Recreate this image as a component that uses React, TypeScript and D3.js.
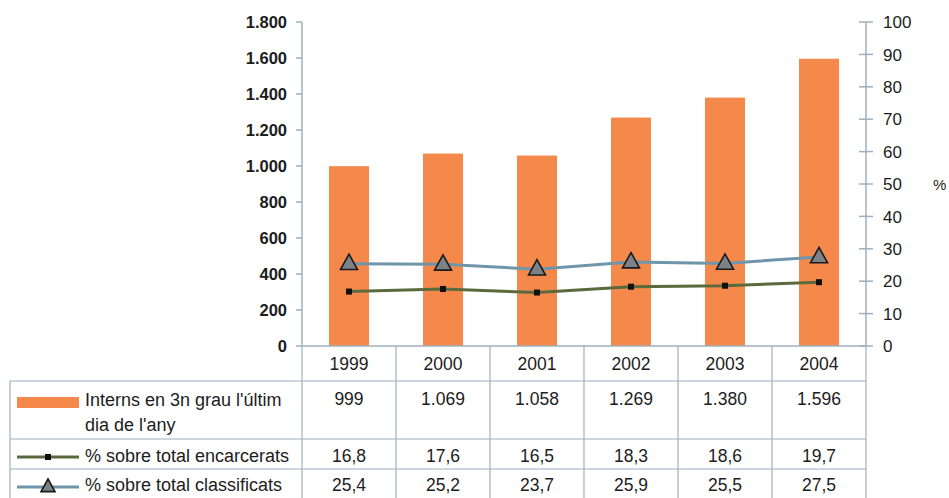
import React from 'react';
import * as d3 from 'd3';

const years = ['1999', '2000', '2001', '2002', '2003', '2004'];
const interns = [999, 1069, 1058, 1269, 1380, 1596];
const pctEncarcerats = [16.8, 17.6, 16.5, 18.3, 18.6, 19.7];
const pctClassificats = [25.4, 25.2, 23.7, 25.9, 25.5, 27.5];
const leftTicks = [0, 200, 400, 600, 800, 1000, 1200, 1400, 1600, 1800];
const rightTicks = [0, 10, 20, 30, 40, 50, 60, 70, 80, 90, 100];

const ORANGE = '#f5894c';
const BLUE = '#6f95aa';
const GREEN = '#5a6a3c';
const GRID = '#9fb0bd';
const TEXT = '#1c1c1c';
const FONT = '"Liberation Sans", Arial, sans-serif';

const fmtThousands = (v: number) =>
  d3.format(',')(v).replace(/,/g, '.');
const fmtDec = (v: number) => d3.format('.1f')(v).replace('.', ',');

const App = () => {
  const width = 949;
  const height = 498;
  const plot = { left: 302, right: 866, top: 22, bottom: 346 };

  const x = d3
    .scaleBand()
    .domain(years)
    .range([plot.left, plot.right])
    .paddingInner(0)
    .paddingOuter(0);
  const yLeft = d3.scaleLinear().domain([0, 1800]).range([plot.bottom, plot.top]);
  const yRight = d3.scaleLinear().domain([0, 100]).range([plot.bottom, plot.top]);

  const barW = 40;
  const cx = (y: string) => (x(y) as number) + x.bandwidth() / 2;

  const line = d3
    .line<number>()
    .x((_, i) => cx(years[i]))
    .y((d) => yRight(d));

  // table rows
  const tableLeft = 10;
  const rowYears = { top: plot.bottom, bottom: 381 };
  const rows = [
    { top: 381, bottom: 439 },
    { top: 439, bottom: 469 },
    { top: 469, bottom: 500 },
  ];
  const cellSize = 17.5;
  const legendSize = 18;

  const triangle = (px: number, py: number, s = 8.5) =>
    `M${px},${py - s} L${px + s},${py + s * 0.8} L${px - s},${py + s * 0.8} Z`;

  return (
    <svg
      width={width}
      height={height}
      style={{ position: 'absolute', left: 0, top: 0, background: '#fff' }}
      fontFamily={FONT}
    >
      {/* bars */}
      {interns.map((v, i) => (
        <rect
          key={years[i]}
          x={cx(years[i]) - barW / 2}
          y={yLeft(v)}
          width={barW}
          height={plot.bottom - yLeft(v)}
          fill={ORANGE}
        />
      ))}

      {/* left axis */}
      <line x1={plot.left} x2={plot.left} y1={plot.top} y2={plot.bottom} stroke={GRID} strokeWidth={1.5} />
      {leftTicks.map((t) => (
        <g key={t}>
          <line x1={plot.left - 6} x2={plot.left} y1={yLeft(t)} y2={yLeft(t)} stroke={GRID} strokeWidth={1.5} />
          <text
            x={287}
            y={yLeft(t)}
            dy="0.36em"
            textAnchor="end"
            fontSize={16.5}
            fontWeight="bold"
            fill={TEXT}
          >
            {fmtThousands(t)}
          </text>
        </g>
      ))}

      {/* right axis */}
      <line x1={plot.right} x2={plot.right} y1={plot.top} y2={plot.bottom} stroke={GRID} strokeWidth={1.5} />
      {rightTicks.map((t) => (
        <g key={t}>
          <line x1={plot.right - 7} x2={plot.right + 7} y1={yRight(t)} y2={yRight(t)} stroke={GRID} strokeWidth={1.5} />
          <text x={883} y={yRight(t)} dy="0.36em" fontSize={17} fill={TEXT}>
            {t}
          </text>
        </g>
      ))}
      <text x={933} y={185} dy="0.36em" fontSize={15} fill={TEXT}>
        %
      </text>

      {/* lines */}
      <path d={line(pctClassificats) as string} fill="none" stroke={BLUE} strokeWidth={3} />
      <path d={line(pctEncarcerats) as string} fill="none" stroke={GREEN} strokeWidth={3} />
      {pctEncarcerats.map((v, i) => (
        <rect key={i} x={cx(years[i]) - 3} y={yRight(v) - 3} width={6} height={6} fill="#111" />
      ))}
      {pctClassificats.map((v, i) => (
        <path
          key={i}
          d={triangle(cx(years[i]), yRight(v) - 1)}
          fill="#7d8288"
          stroke="#1a1a1a"
          strokeWidth={1.6}
        />
      ))}

      {/* data table */}
      <line x1={plot.left} x2={plot.right} y1={plot.bottom} y2={plot.bottom} stroke={GRID} strokeWidth={1.5} />
      <line x1={tableLeft} x2={tableLeft} y1={rows[0].top} y2={height} stroke={GRID} strokeWidth={1.2} />
      <line x1={plot.left} x2={plot.left} y1={plot.bottom} y2={height} stroke={GRID} strokeWidth={1.2} />
      {years.map((yr) => (
        <line
          key={yr}
          x1={(x(yr) as number) + x.bandwidth()}
          x2={(x(yr) as number) + x.bandwidth()}
          y1={plot.bottom}
          y2={height}
          stroke={GRID}
          strokeWidth={1.2}
        />
      ))}
      {rows.map((r, i) => (
        <line key={i} x1={tableLeft} x2={plot.right} y1={r.top} y2={r.top} stroke={GRID} strokeWidth={1.2} />
      ))}

      {years.map((yr) => (
        <text
          key={yr}
          x={cx(yr)}
          y={(rowYears.top + rowYears.bottom) / 2}
          dy="0.36em"
          textAnchor="middle"
          fontSize={cellSize}
          fill={TEXT}
        >
          {yr}
        </text>
      ))}

      {/* row 1 */}
      <rect x={17} y={397} width={62} height={11} fill={ORANGE} />
      <text x={85} y={400} dy="0.36em" fontSize={legendSize} fill={TEXT}>
        Interns en 3n grau l'últim
      </text>
      <text x={85} y={425} dy="0.36em" fontSize={legendSize} fill={TEXT}>
        dia de l'any
      </text>
      {interns.map((v, i) => (
        <text key={i} x={cx(years[i])} y={399} dy="0.36em" textAnchor="middle" fontSize={cellSize} fill={TEXT}>
          {fmtThousands(v)}
        </text>
      ))}

      {/* row 2 */}
      <line x1={17} x2={79} y1={457} y2={457} stroke={GREEN} strokeWidth={3} />
      <rect x={45} y={454} width={6} height={6} fill="#111" />
      <text x={85} y={456} dy="0.36em" fontSize={legendSize} fill={TEXT}>
        % sobre total encarcerats
      </text>
      {pctEncarcerats.map((v, i) => (
        <text key={i} x={cx(years[i])} y={456} dy="0.36em" textAnchor="middle" fontSize={cellSize} fill={TEXT}>
          {fmtDec(v)}
        </text>
      ))}

      {/* row 3 */}
      <line x1={17} x2={79} y1={487} y2={487} stroke={BLUE} strokeWidth={3} />
      <path d={triangle(48, 486, 7)} fill="#7d8288" stroke="#1a1a1a" strokeWidth={1.6} />
      <text x={85} y={485} dy="0.36em" fontSize={legendSize} fill={TEXT}>
        % sobre total classificats
      </text>
      {pctClassificats.map((v, i) => (
        <text key={i} x={cx(years[i])} y={485} dy="0.36em" textAnchor="middle" fontSize={cellSize} fill={TEXT}>
          {fmtDec(v)}
        </text>
      ))}
    </svg>
  );
};

export default App;
